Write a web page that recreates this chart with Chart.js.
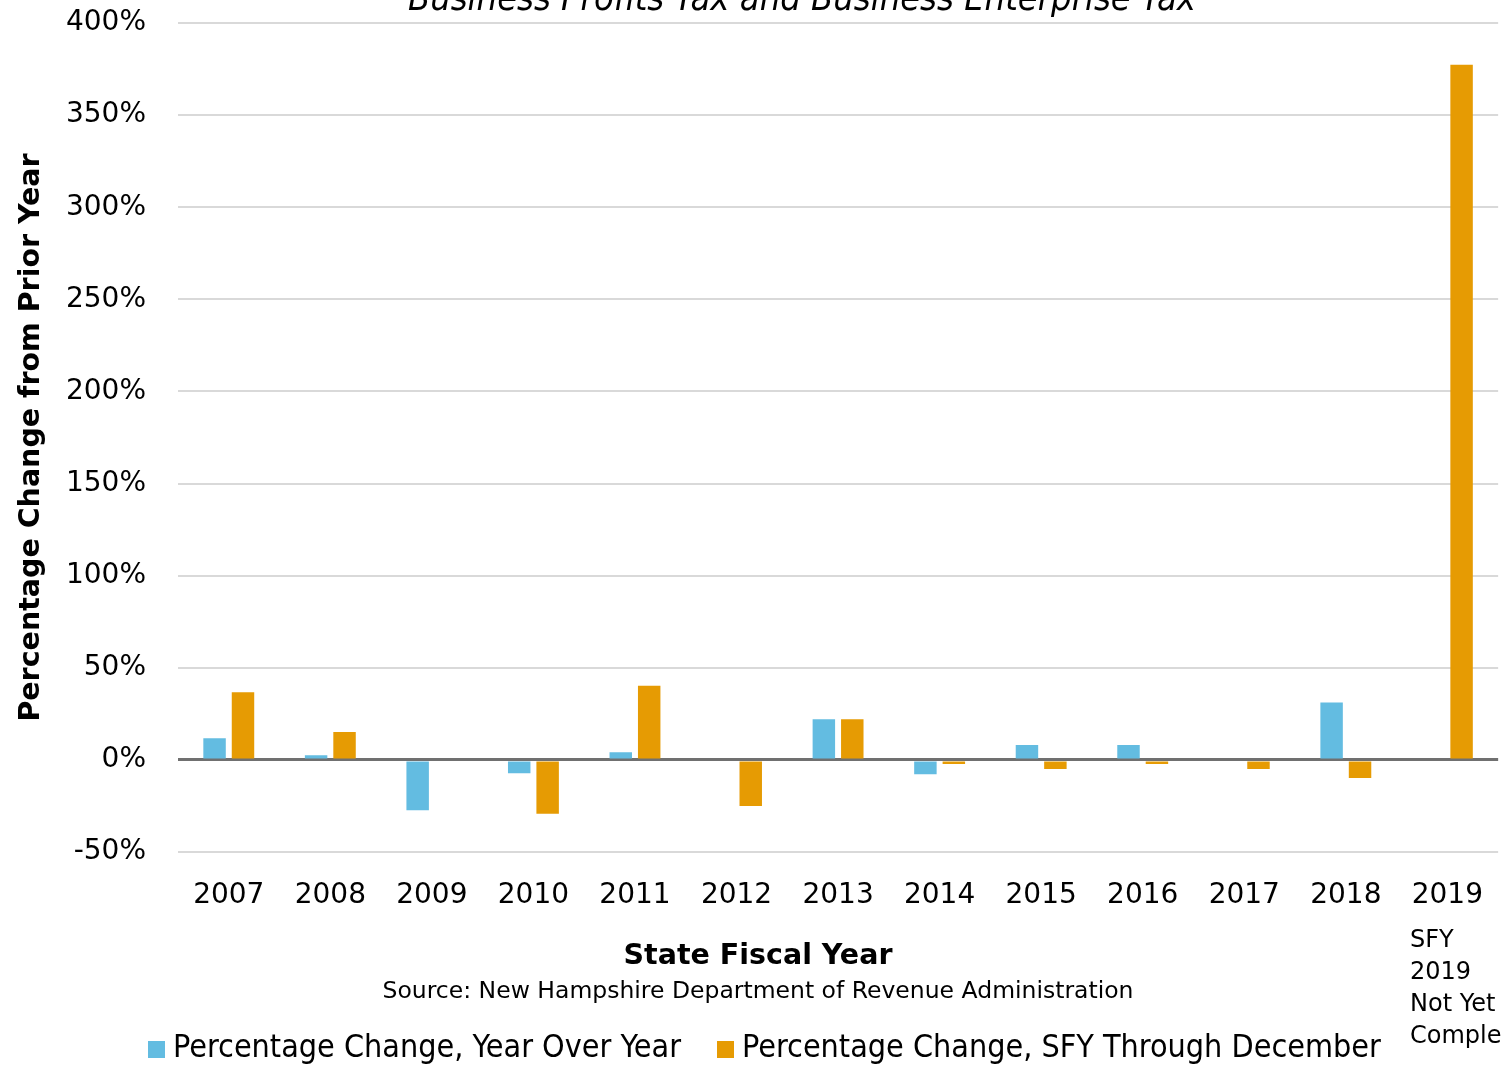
<!DOCTYPE html>
<html lang="en">
<head>
    <meta charset="UTF-8">
    <title>Business Profits Tax and Business Enterprise Tax</title>
    <script src="https://cdn.jsdelivr.net/npm/chart.js"></script>
    <style>
        body { margin: 0; padding: 0; background: white; }
        .wrap { width: 1502px; height: 1066px; }
    </style>
</head>
<body>
    <div class="wrap">
        <canvas id="bptChart" width="1502" height="1066"></canvas>
    </div>

    <script>
        // Chart values (percent change from prior year)
        const years = ['2007', '2008', '2009', '2010', '2011', '2012', '2013', '2014', '2015', '2016', '2017', '2018', '2019'];
        const yoyChange = [11.8, 2.5, -27.3, -7.2, 4.2, 0, 22.1, -7.8, 8.1, 8.1, 0, 31.1, null];
        const sfyDecChange = [36.7, 15.2, 0, -29.3, 40.2, -25.0, 22.1, -2.2, -4.9, -2.2, -4.9, -9.8, 377.3];
        const seriesNames = ['Percentage Change, Year Over Year', 'Percentage Change, SFY Through December'];
        const seriesColors = ['#63BCE1', '#E69B03'];
        const yTicks = [-50, 0, 50, 100, 150, 200, 250, 300, 350, 400];

        const FONT = "'DejaVu Sans', sans-serif";

        // extra text: clipped title, axis titles, source, note, legend
        const extras = {
            id: 'extras',
            afterDraw(chart) {
                const c = chart.ctx;
                const area = chart.chartArea;
                c.save();
                c.fillStyle = '#000';

                c.font = "italic 36px 'DejaVu Sans Condensed', sans-serif";
                c.textAlign = 'center';
                c.textBaseline = 'alphabetic';
                c.fillText('Business Profits Tax and Business Enterprise Tax', 802, 10);

                c.save();
                c.translate(32, (area.top + area.bottom) / 2);
                c.rotate(-Math.PI / 2);
                c.font = 'bold 28.5px ' + FONT;
                c.textBaseline = 'middle';
                c.fillText('Percentage Change from Prior Year', 0, 0);
                c.restore();

                c.textBaseline = 'middle';
                c.font = 'bold 28.5px ' + FONT;
                c.fillText('State Fiscal Year', 758, 957);
                c.font = '23.5px ' + FONT;
                c.fillText('Source: New Hampshire Department of Revenue Administration', 758, 992);

                c.textAlign = 'left';
                c.font = '24px ' + FONT;
                ['SFY', '2019', 'Not Yet', 'Completed'].forEach((t, i) => c.fillText(t, 1410, 941 + i * 32));

                c.font = "32px 'DejaVu Sans Condensed', sans-serif";
                const legendX = [148, 717];
                seriesNames.forEach((name, i) => {
                    c.fillStyle = seriesColors[i];
                    c.fillRect(legendX[i], 1041, 17, 17);
                    c.fillStyle = '#000';
                    c.fillText(name, legendX[i] + 25, 1049);
                });
                c.restore();
            }
        };

        const ctx = document.getElementById('bptChart').getContext('2d');
        const bptChart = new Chart(ctx, {
            type: 'bar',
            data: {
                labels: years,
                datasets: [
                    { label: seriesNames[0], data: yoyChange, backgroundColor: seriesColors[0] },
                    { label: seriesNames[1], data: sfyDecChange, backgroundColor: seriesColors[1] }
                ]
            },
            options: {
                responsive: false,
                animation: false,
                categoryPercentage: 0.56,
                barPercentage: 0.79,
                layout: { padding: { top: 23, right: 0, left: 0, bottom: 0 } },
                plugins: {
                    legend: { display: false },
                    title: { display: false },
                    tooltip: { enabled: false }
                },
                scales: {
                    x: {
                        grid: { display: false },
                        border: { display: false },
                        ticks: { color: '#000', font: { family: FONT, size: 28 }, padding: 19, maxRotation: 0 },
                        afterFit(scale) { scale.height = 1066 - 852; }
                    },
                    y: {
                        min: -50,
                        max: 400,
                        afterBuildTicks(scale) { scale.ticks = yTicks.map(v => ({ value: v })); },
                        grid: {
                            drawTicks: true,
                            tickLength: 28,
                            tickColor: 'rgba(0,0,0,0)',
                            color: ctx => ctx.tick && ctx.tick.value === 0 ? '#707070' : '#d9d9d9',
                            lineWidth: ctx => ctx.tick && ctx.tick.value === 0 ? 3 : 2
                        },
                        border: { display: false },
                        ticks: {
                            color: '#000',
                            font: { family: FONT, size: 28 },
                            padding: 4,
                            callback: v => v + '%'
                        },
                        afterFit(scale) { scale.width = 178; }
                    }
                }
            },
            plugins: [extras]
        });
    </script>
</body>
</html>
